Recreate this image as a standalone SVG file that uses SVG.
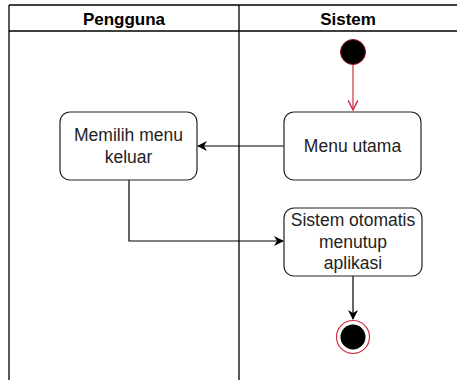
<svg xmlns="http://www.w3.org/2000/svg" width="457" height="380" viewBox="0 0 457 380">
  <style>
    .lane { fill: none; stroke: #000; stroke-width: 1.3; }
    .node rect { fill: #fff; stroke: #222; stroke-width: 1.2; }
    .node text { font-family: "Liberation Sans", Arial, sans-serif; font-size: 17.5px; fill: #222; text-anchor: middle; }
    .hdr { font-family: "Liberation Sans", Arial, sans-serif; font-size: 17px; font-weight: bold; fill: #000; text-anchor: middle; }
    .edge { fill: none; stroke: #000; stroke-width: 1.2; }
  </style>
  <defs>
    <marker id="arrow" viewBox="0 0 10 10" refX="9" refY="5" markerWidth="10" markerHeight="10" markerUnits="userSpaceOnUse" orient="auto">
      <path d="M0,0 L10,5 L0,10 L3,5 Z" fill="#000"/>
    </marker>
    <marker id="openArrow" viewBox="0 0 10 10" refX="9" refY="5" markerWidth="12" markerHeight="12" markerUnits="userSpaceOnUse" orient="auto">
      <path d="M1,1 L9,5 L1,9" fill="none" stroke="#d03040" stroke-width="1.2"/>
    </marker>
  </defs>
  <rect width="457" height="380" fill="#fff"/>

  <!-- swimlanes -->
  <g id="lanes">
    <line class="lane" x1="9" y1="5" x2="457" y2="5"/>
    <line class="lane" x1="9" y1="31" x2="457" y2="31"/>
    <line class="lane" x1="9" y1="5" x2="9" y2="380"/>
    <line class="lane" x1="239" y1="5" x2="239" y2="380"/>
    <text class="hdr" x="124" y="25">Pengguna</text>
    <text class="hdr" x="348" y="25">Sistem</text>
  </g>

  <!-- connectors -->
  <g id="connectors">
    <line x1="353" y1="65" x2="353" y2="110" stroke="#d03040" stroke-width="1.2" marker-end="url(#openArrow)"/>
    <line class="edge" x1="284" y1="146" x2="198" y2="146" marker-end="url(#arrow)"/>
    <polyline class="edge" points="129,180 129,241 283,241" marker-end="url(#arrow)"/>
    <line class="edge" x1="353" y1="276" x2="353" y2="319" marker-end="url(#arrow)"/>
  </g>

  <g id="start">
    <circle cx="353" cy="52" r="12.5" fill="#000" stroke="#a01020" stroke-width="1"/>
  </g>

  <g id="menu-utama" class="node">
    <rect x="284" y="112" width="137" height="68" rx="10"/>
    <text x="352.5" y="152">Menu utama</text>
  </g>

  <g id="memilih-menu-keluar" class="node">
    <rect x="60" y="112" width="137" height="68" rx="10"/>
    <text x="128.5" y="141">Memilih menu</text>
    <text x="128.5" y="163">keluar</text>
  </g>

  <g id="menutup-aplikasi" class="node">
    <rect x="284" y="208" width="138" height="68" rx="10"/>
    <text x="353" y="226">Sistem otomatis</text>
    <text x="353" y="248">menutup</text>
    <text x="353" y="269">aplikasi</text>
  </g>

  <g id="end">
    <circle cx="353" cy="337" r="16.5" fill="#fff" stroke="#d03040" stroke-width="1.2"/>
    <circle cx="353" cy="337" r="12.5" fill="#000"/>
  </g>
</svg>
